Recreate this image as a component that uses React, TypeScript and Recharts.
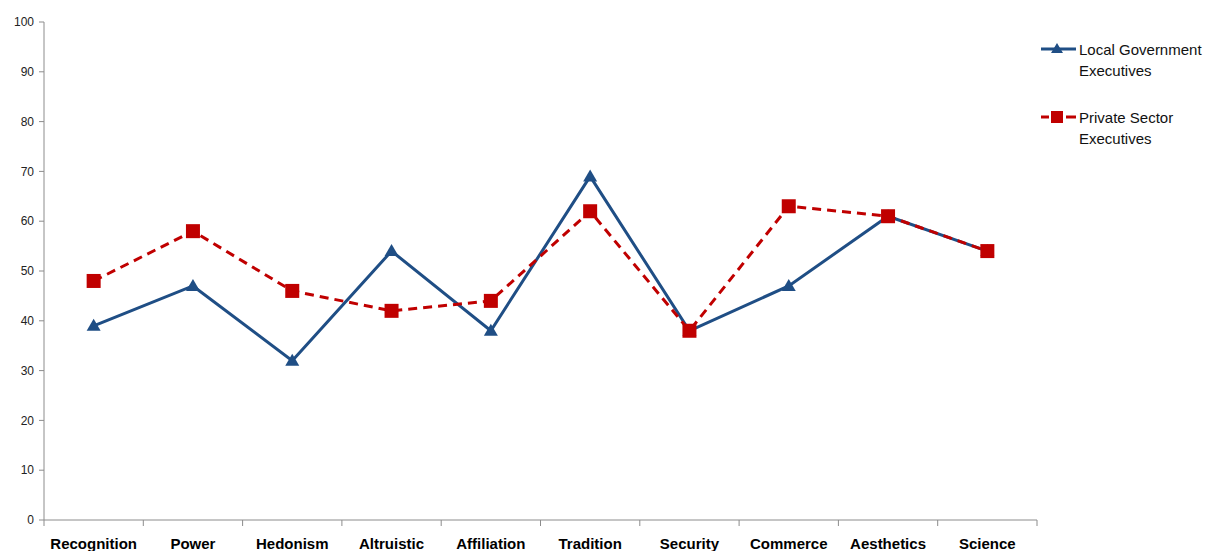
import React from 'react';
import { LineChart, Line, XAxis, YAxis } from 'recharts';

const categories = ['Recognition', 'Power', 'Hedonism', 'Altruistic', 'Affiliation', 'Tradition', 'Security', 'Commerce', 'Aesthetics', 'Science'];
const localGov = [39, 47, 32, 54, 38, 69, 38, 47, 61, 54];
const privateSector = [48, 58, 46, 42, 44, 62, 38, 63, 61, 54];
const yTicks = [0, 10, 20, 30, 40, 50, 60, 70, 80, 90, 100];

const data = categories.map((name, i) => ({ name, local: localGov[i], priv: privateSector[i] }));

const W = 1210;
const H = 551;
const MARGIN = { top: 22, right: 173, bottom: 0, left: 0 };
const Y_AXIS_W = 44;
const X_AXIS_H = 31;
const BAND = (W - MARGIN.left - MARGIN.right - Y_AXIS_W) / categories.length;

const BLUE = '#1F4E85';
const RED = '#C00000';
const AXIS = '#8c8c8c';
const FONT = '"Liberation Sans", Arial, sans-serif';

const Triangle = ({ cx, cy }: any) => (
  <polygon points={`${cx},${cy - 7} ${cx + 7},${cy + 5} ${cx - 7},${cy + 5}`} fill={BLUE} />
);

const Square = ({ cx, cy }: any) => (
  <rect x={cx - 7} y={cy - 7} width={14} height={14} fill={RED} />
);

// category label centred in the band, tick marks on band edges
const CategoryTick = ({ x, y, payload, index }: any) => (
  <g>
    <line x1={x - BAND / 2} y1={y} x2={x - BAND / 2} y2={y + 6} stroke={AXIS} />
    {index === categories.length - 1 && (
      <line x1={x + BAND / 2} y1={y} x2={x + BAND / 2} y2={y + 6} stroke={AXIS} />
    )}
    <text x={x} y={y + 29} textAnchor="middle" fontFamily={FONT} fontSize={15} fontWeight="bold" fill="#000">
      {payload.value}
    </text>
  </g>
);

const ChartLegend = () => (
  <div style={{ position: 'absolute', left: 1040, top: 39, width: 170, fontFamily: FONT, fontSize: 15, color: '#111', lineHeight: '21px' }}>
    <div style={{ display: 'flex', alignItems: 'flex-start', marginBottom: 26 }}>
      <svg width={39} height={21} style={{ flexShrink: 0 }}>
        <line x1={1} y1={10} x2={36} y2={10} stroke={BLUE} strokeWidth={3} />
        <polygon points="17,4 23,14 11,14" fill={BLUE} />
      </svg>
      <span>Local Government<br />Executives</span>
    </div>
    <div style={{ display: 'flex', alignItems: 'flex-start' }}>
      <svg width={39} height={21} style={{ flexShrink: 0 }}>
        <line x1={1} y1={10} x2={36} y2={10} stroke={RED} strokeWidth={3} strokeDasharray="8 17 11" />
        <rect x={11} y={4} width={12} height={12} fill={RED} />
      </svg>
      <span>Private Sector<br />Executives</span>
    </div>
  </div>
);

export default function App() {
  return (
    <div style={{ position: 'absolute', left: 0, top: 0, width: W, height: H, background: '#fff' }}>
      <LineChart width={W} height={H} data={data} margin={MARGIN}>
        <XAxis
          dataKey="name"
          height={X_AXIS_H}
          padding={{ left: BAND / 2, right: BAND / 2 }}
          axisLine={{ stroke: AXIS }}
          tickLine={false}
          tickSize={0}
          tickMargin={0}
          interval={0}
          tick={<CategoryTick />}
        />
        <YAxis
          width={Y_AXIS_W}
          domain={[0, 100]}
          ticks={yTicks}
          interval={0}
          axisLine={{ stroke: AXIS }}
          tickLine={{ stroke: AXIS }}
          tickSize={5}
          tickMargin={5}
          tick={{ fontFamily: FONT, fontSize: 12, fill: '#222' }}
        />
        <Line
          dataKey="local"
          stroke={BLUE}
          strokeWidth={3}
          dot={<Triangle />}
          activeDot={false}
          isAnimationActive={false}
        />
        <Line
          dataKey="priv"
          stroke={RED}
          strokeWidth={3}
          strokeDasharray="9 6"
          dot={<Square />}
          activeDot={false}
          isAnimationActive={false}
        />
      </LineChart>
      <ChartLegend />
    </div>
  );
}
